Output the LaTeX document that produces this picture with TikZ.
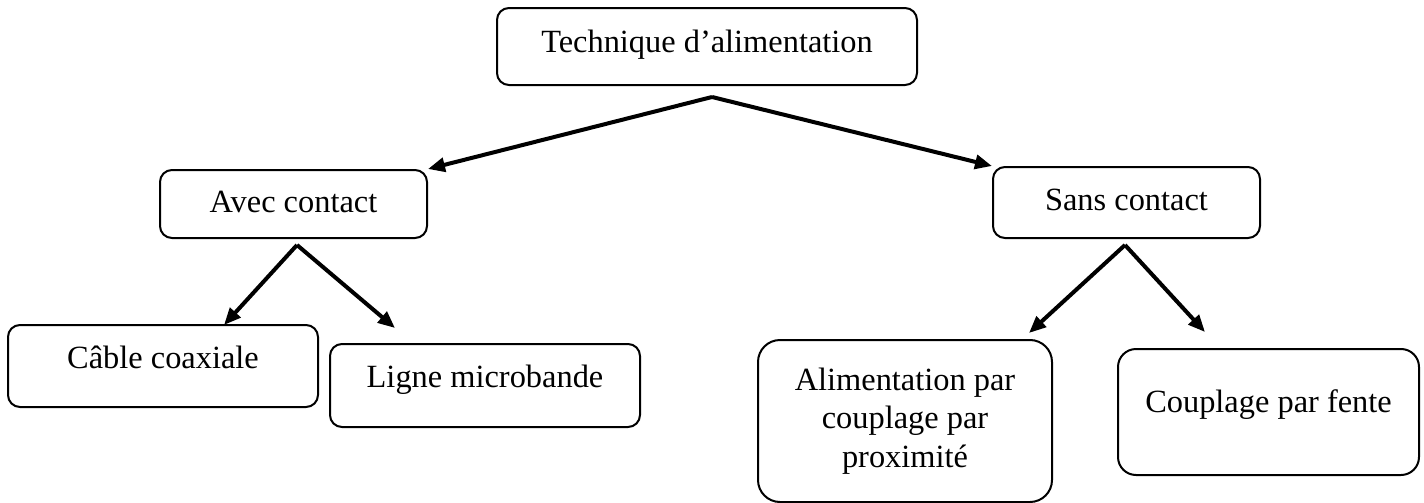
\documentclass[tikz,border=0pt]{standalone}
\usepackage{fontspec}
\setmainfont{Liberation Serif}
\usetikzlibrary{arrows.meta}

\begin{document}
\begin{tikzpicture}[x=0.5pt, y=-0.5pt,
    box/.style={draw, line width=1pt, rounded corners=6pt, inner sep=0pt, align=center,
                font=\fontsize{16.2}{19.3}\selectfont},
    link/.style={line width=2pt, -{Triangle[length=8.5pt, width=7pt]}}]
    \useasboundingbox (0,0) rectangle (1424,503);

    % Top
    \node[box, anchor=base, minimum width=210pt, text height=22pt, text depth=16.5pt] (tech) at (707,52) {Technique d’alimentation};

    % Level 2
    \node[box, anchor=base, minimum width=133.5pt, text height=21pt, text depth=13pt] (avec) at (293.5,212) {Avec contact};
    \node[box, anchor=base, minimum width=133.5pt, text height=21.5pt, text depth=14pt] (sans) at (1126.5,210) {Sans contact};

    % Level 3
    \node[box, anchor=base, minimum width=155pt, text height=21.5pt, text depth=19.5pt] (cable) at (163,368) {Câble coaxiale};
    \node[box, anchor=base, minimum width=155pt, text height=21.5pt, text depth=20pt] (ligne) at (485,387) {Ligne microbande};
    \node[box, rounded corners=11pt, minimum width=147pt, minimum height=81pt] (alim) at (905,421) {Alimentation par\\couplage par\\proximité};
    \node[box, rounded corners=9pt, anchor=base, minimum width=150.5pt, text height=31.5pt, text depth=31.5pt] (fente) at (1268.5,412) {Couplage par fente};

    % Forks and arrow ends
    \coordinate (techfork) at (712,97);
    \coordinate (avecfork) at (297,245);
    \coordinate (sansfork) at (1125,245);
    \coordinate (cabletip) at (224,325);
    \coordinate (lignetip) at (395,328);
    \coordinate (alimtip) at (1029,333);
    \coordinate (fentetip) at (1205,332);

    % Arrows
    \draw[link] (techfork) -- (avec.north east);
    \draw[link] (techfork) -- (sans.north west);
    \draw[link] (avecfork) -- (cabletip);
    \draw[link] (avecfork) -- (lignetip);
    \draw[link] (sansfork) -- (alimtip);
    \draw[link] (sansfork) -- (fentetip);
\end{tikzpicture}
\end{document}
